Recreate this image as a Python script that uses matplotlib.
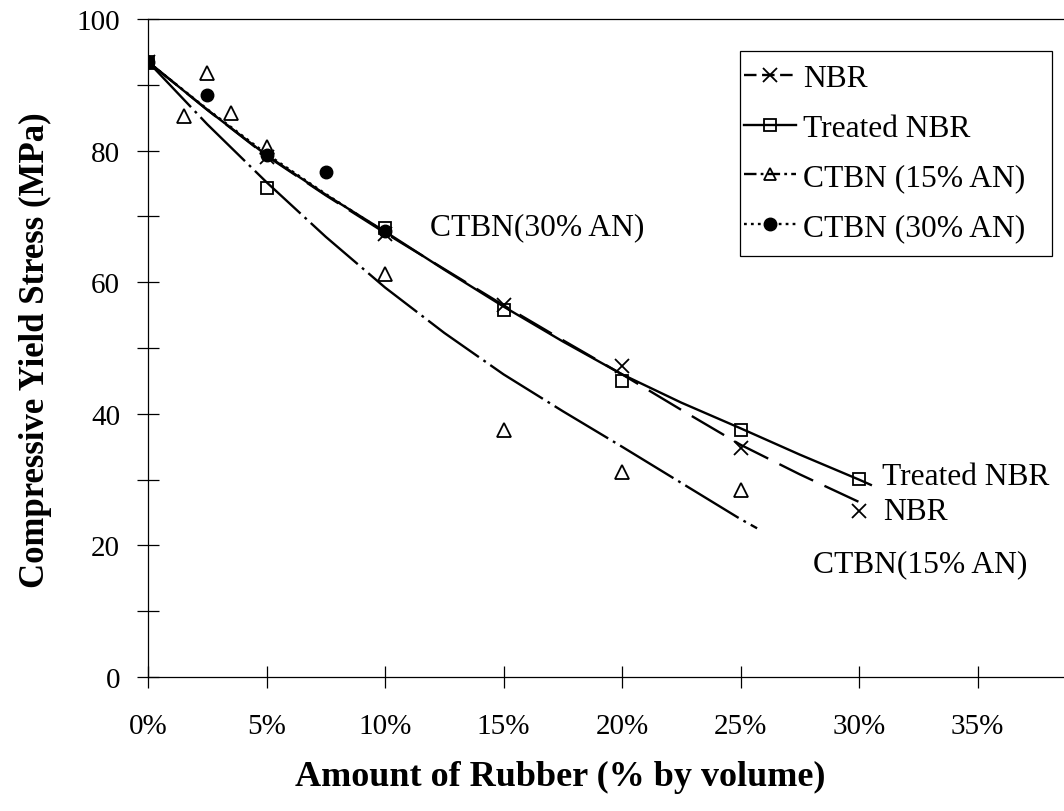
import matplotlib
matplotlib.use("Agg")
import matplotlib.pyplot as plt
import matplotlib.ticker as ticker
from matplotlib.lines import Line2D
from matplotlib.patches import Rectangle

plt.rcParams['font.family'] = ['Liberation Serif', 'DejaVu Serif']
plt.rcParams['lines.scale_dashes'] = False

# measured points (% rubber by volume, MPa)
x_pct = [0, 5, 10, 15, 20, 25, 30]
nbr = [93.5, 79.0, 67.3, 56.5, 47.3, 34.8, 25.3]
treated_nbr = [93.5, 74.3, 68.3, 55.8, 45.0, 37.5, 30.1]

ctbn15_x = [0, 1.5, 2.5, 3.5, 5, 10, 15, 20, 25]
ctbn15 = [93.5, 85.3, 91.8, 85.7, 80.5, 61.3, 37.6, 31.2, 28.4]

ctbn30_x = [0, 2.5, 5, 7.5, 10]
ctbn30 = [93.5, 88.4, 79.3, 76.8, 67.8]

# trend lines
trend_x = [0, 2.5, 5, 7.5, 10, 12.5, 15, 17.5, 20, 22.5, 25, 27.5, 30]
nbr_trend = [93.5, 86.2, 79.2, 73.2, 67.5, 62.0, 56.5, 51.2, 46.0, 40.6, 35.3, 30.8, 26.6]
treated_trend = [93.5, 86.2, 79.3, 73.3, 67.7, 61.9, 56.3, 51.0, 46.0, 41.7, 37.8, 33.8, 30.0]
nbr_end = [30.3, 26.1]
treated_end = [30.5, 29.2]

ctbn15_trend_x = [0, 2.5, 5, 7.5, 10, 12.5, 15, 17.5, 20, 22.5, 25, 25.7]
ctbn15_trend = [93.5, 84.0, 75.2, 66.9, 59.2, 52.3, 46.0, 40.4, 35.0, 29.5, 24.0, 22.6]

ctbn30_trend_x = [0, 2.5, 5, 7.5, 10]
ctbn30_trend = [93.5, 86.3, 79.5, 73.4, 67.6]

x_ticks = [0, 5, 10, 15, 20, 25, 30, 35]
y_ticks = [0, 20, 40, 60, 80, 100]

W, H = 1064, 812
fig = plt.figure(figsize=(W / 100, H / 100), dpi=100)
ax = fig.add_axes([148 / W, 1 - 678 / H, 948 / W, 658 / H])

lw = 1.7
ax.plot(trend_x + [nbr_end[0]], nbr_trend + [nbr_end[1]], color='k', lw=lw, dashes=[27, 9])
ax.plot(trend_x + [treated_end[0]], treated_trend + [treated_end[1]], color='k', lw=lw)
ax.plot(ctbn15_trend_x, ctbn15_trend, color='k', lw=lw, dashes=[45, 4, 2, 4])
ax.plot(ctbn30_trend_x, ctbn30_trend, color='k', lw=lw, dashes=[2, 3])

ax.plot(x_pct, nbr, ls='none', marker='x', ms=10, mew=1.3, color='k')
ax.plot(x_pct, treated_nbr, ls='none', marker='s', ms=9, mew=1.3, mfc='none', mec='k')
ax.plot(ctbn15_x, ctbn15, ls='none', marker='^', ms=10, mew=1.3, mfc='none', mec='k')
ax.plot(ctbn30_x, ctbn30, ls='none', marker='o', ms=9, color='k')

ax.set_xlim(0, 40)
ax.set_ylim(0, 100)
ax.set_xticks(x_ticks)
ax.set_yticks(y_ticks)
ax.yaxis.set_minor_locator(ticker.MultipleLocator(10))
ax.xaxis.set_major_formatter(ticker.FuncFormatter(lambda v, pos: '{:.0f}%'.format(v)))
ax.tick_params(axis='both', which='both', direction='inout', length=16, width=0.9, labelsize=21)
ax.tick_params(axis='x', pad=18)
ax.tick_params(axis='y', pad=12)
ax.spines['right'].set_visible(False)
for s in ['left', 'top', 'bottom']:
    ax.spines[s].set_linewidth(0.9)

fs = 22.7
ax.text(11.9, 68.4, 'CTBN(30% AN)', fontsize=fs, ha='left', va='center')
ax.text(30.95, 30.5, 'Treated NBR', fontsize=fs, ha='left', va='center')
ax.text(31.0, 25.2, 'NBR', fontsize=fs, ha='left', va='center')
ax.text(28.05, 17.2, 'CTBN(15% AN)', fontsize=fs, ha='left', va='center')

handles = [
    Line2D([], [], color='k', lw=lw, dashes=[9, 4], marker='x', ms=10, mew=1.3),
    Line2D([], [], color='k', lw=lw, marker='s', ms=8, mew=1.3, mfc='none'),
    Line2D([], [], color='k', lw=lw, dashes=[9, 3, 2, 3], marker='^', ms=9, mew=1.3, mfc='none'),
    Line2D([], [], color='k', lw=lw, dashes=[2, 3], marker='o', ms=9),
]
labels = ['NBR', 'Treated NBR', 'CTBN (15% AN)', 'CTBN (30% AN)']
leg = fig.legend(handles, labels, loc='upper left', bbox_to_anchor=(741 / W, 1 - 62 / H),
                 borderaxespad=0, fontsize=fs, frameon=False,
                 handlelength=1.65, handletextpad=0.22, borderpad=0.1,
                 labelspacing=0.65)
# legend frame as drawn in the source (extra room on the right)
fig.patches.append(Rectangle((740 / W, 1 - 257 / H), 312 / W, 205 / H,
                             transform=fig.transFigure, fill=False, edgecolor='k', lw=0.9))

fig.text(560 / W, 1 - 777 / H, 'Amount of Rubber (% by volume)', fontsize=26,
         fontweight='bold', ha='center', va='center')
fig.text(35 / W, 1 - 350 / H, 'Compressive Yield Stress (MPa)', fontsize=25,
         fontweight='bold', ha='center', va='center', rotation=90)

fig.savefig('out.png', dpi=100)
